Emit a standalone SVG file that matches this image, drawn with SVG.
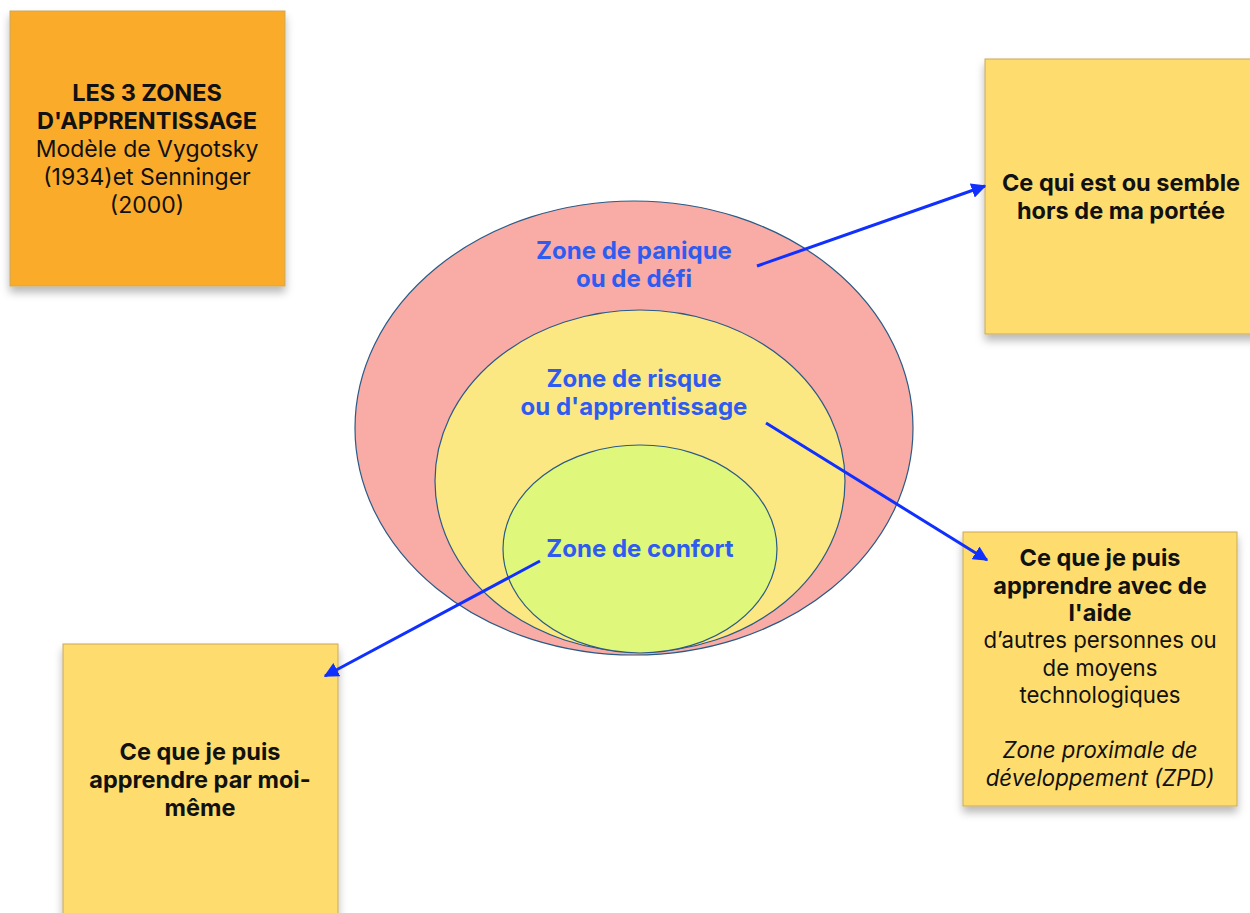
<svg xmlns="http://www.w3.org/2000/svg" width="1250" height="913" viewBox="0 0 1250 913">
<defs>
<filter id="sh" x="-10%" y="-10%" width="120%" height="125%">
<feDropShadow dx="0" dy="6" stdDeviation="4" flood-color="#000" flood-opacity="0.28"/>
</filter>
<marker id="ah" viewBox="0 0 10 10" refX="9" refY="5" markerWidth="5" markerHeight="5" orient="auto" markerUnits="strokeWidth">
<path d="M0,0 L10,5 L0,10 z" fill="#1030ff"/>
</marker>
<style>
.note{stroke:#c9a85a;stroke-width:1;filter:url(#sh)}
.t{font-family:Inter,"Liberation Sans",sans-serif;font-size:22.2px;fill:#111;text-anchor:middle}
.tt{font-size:23px}
.b{font-weight:700;font-size:23.5px}
.i{font-style:italic}
.z{font-family:Inter,"Liberation Sans",sans-serif;font-size:24px;font-weight:700;fill:#2f5cf0;text-anchor:middle}
.el{stroke:#2a5a86;stroke-width:1.2}
.ar{stroke:#1030ff;stroke-width:3;fill:none;marker-end:url(#ah)}
</style>
</defs>
<rect width="1250" height="913" fill="#fff"/>
<g id="title">
<rect class="note" x="10" y="11" width="275" height="275" fill="#fbab2a"/>
<text class="t tt" x="147" y="101"><tspan class="b" x="147" y="101">LES 3 ZONES</tspan><tspan class="b" x="147" y="129">D'APPRENTISSAGE</tspan><tspan x="147" y="157">Modèle de Vygotsky</tspan><tspan x="147" y="185">(1934)et Senninger</tspan><tspan x="147" y="213">(2000)</tspan></text>
</g>
<g id="zones">
<ellipse class="el" cx="634" cy="428" rx="279" ry="227" fill="#f9aba6"/>
<ellipse class="el" cx="640" cy="481" rx="205" ry="171" fill="#fce883"/>
<ellipse class="el" cx="640" cy="549" rx="137" ry="104" fill="#dff77a"/>
<text class="z" x="634" y="259"><tspan x="634" y="259">Zone de panique</tspan><tspan x="634" y="287">ou de défi</tspan></text>
<text class="z" x="634" y="387"><tspan x="634" y="387">Zone de risque</tspan><tspan x="634" y="415">ou d'apprentissage</tspan></text>
<text class="z" x="640" y="557">Zone de confort</text>
</g>
<g id="hors">
<rect class="note" x="985" y="59" width="275" height="275" fill="#fedd6e"/>
<text class="t b" x="1121" y="191"><tspan x="1121" y="191">Ce qui est ou semble</tspan><tspan x="1121" y="219">hors de ma portée</tspan></text>
</g>
<g id="zpd">
<rect class="note" x="963" y="532" width="274" height="274" fill="#fedd6e"/>
<text class="t" x="1100" y="566"><tspan class="b" x="1100" y="566">Ce que je puis</tspan><tspan class="b" x="1100" y="594">apprendre avec de</tspan><tspan class="b" x="1100" y="621">l'aide</tspan><tspan x="1100" y="648">d’autres personnes ou</tspan><tspan x="1100" y="676">de moyens</tspan><tspan x="1100" y="703">technologiques</tspan><tspan class="i" x="1100" y="758">Zone proximale de</tspan><tspan class="i" x="1100" y="786">développement (ZPD)</tspan></text>
</g>
<g id="seul">
<rect class="note" x="63" y="644" width="275" height="290" fill="#fedd6e"/>
<text class="t b" x="200" y="760"><tspan x="200" y="760">Ce que je puis</tspan><tspan x="200" y="788">apprendre par moi-</tspan><tspan x="200" y="816">même</tspan></text>
</g>
<g id="connectors">
<line class="ar" x1="757" y1="266" x2="985" y2="186"/>
<line class="ar" x1="766" y1="423" x2="987" y2="560"/>
<line class="ar" x1="540" y1="561" x2="325" y2="676"/>
</g>
</svg>
